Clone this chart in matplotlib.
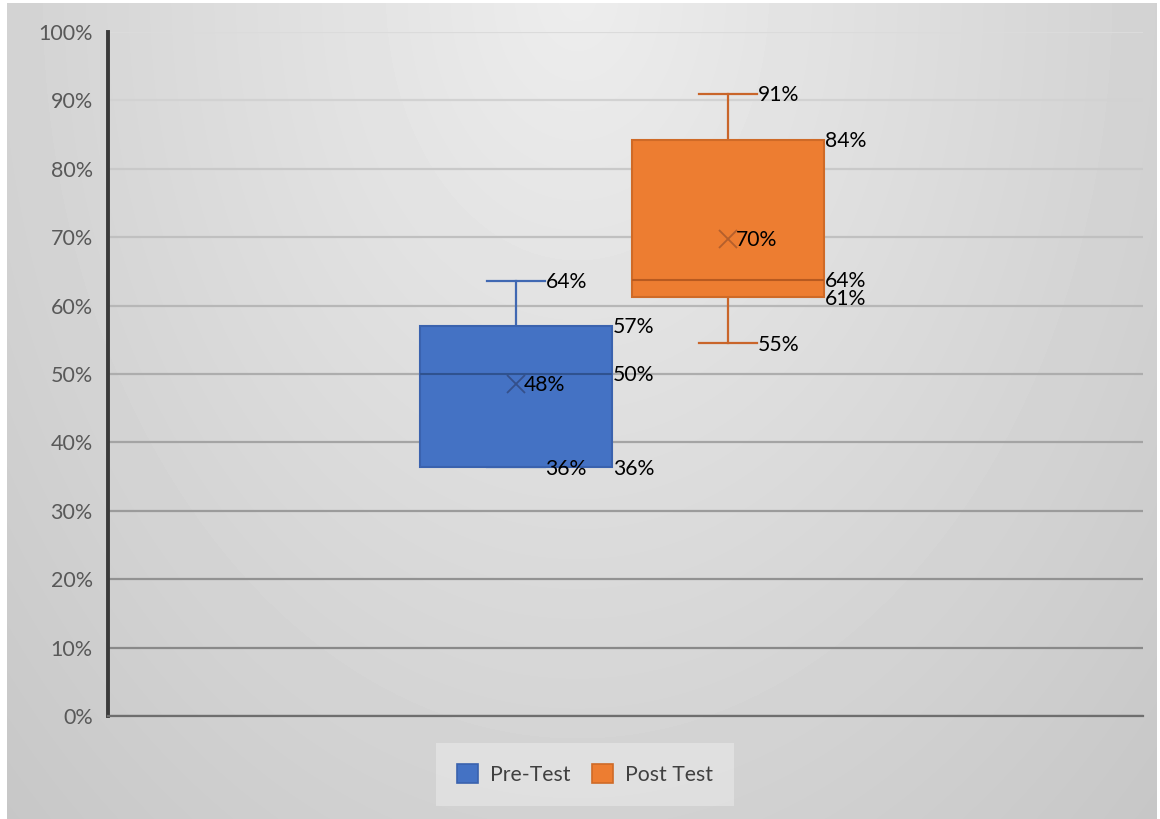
import matplotlib.pyplot as plt
import numpy as np
from matplotlib.patches import Patch

plt.rcParams['font.family'] = ['Lato', 'DejaVu Sans']

# box plot values (fractions)
series = ["Pre-Test", "Post Test"]
mins = [0.364, 0.545]
q1s = [0.364, 0.613]
medians = [0.500, 0.637]
q3s = [0.570, 0.842]
maxs = [0.636, 0.910]
means = [0.485, 0.697]

# labels shown in the chart
min_labels = ["36%", "55%"]
q1_labels = ["36%", "61%"]
med_labels = ["50%", "64%"]
q3_labels = ["57%", "84%"]
max_labels = ["64%", "91%"]
mean_labels = ["48%", "70%"]

fills = ["#4472C4", "#ED7D31"]
edges = ["#3A62AE", "#CF6A27"]
meds = ["#2F528F", "#B85A20"]
whisk = ["#4068B2", "#C9652A"]
mean_col = ["#34508A", "#B45F2C"]

fig = plt.figure(figsize=(11.6, 8.19), dpi=100)
fig.patch.set_facecolor("white")

# gradient background
bg = fig.add_axes([7 / 1160, 0, 1150 / 1160, 816 / 819], zorder=-10)
yy, xx = np.mgrid[0:816, 0:1150]
r = np.sqrt(((xx - 570) / 560.0) ** 2 + ((yy + 10) / 780.0) ** 2)
v = np.clip(237 - 26 * r, 190, 240) / 255.0
bg.imshow(v, cmap="gray", vmin=0, vmax=1, aspect="auto", interpolation="bilinear")
bg.axis("off")

ax = fig.add_axes([108 / 1160, 1 - 716 / 819, 1035 / 1160, 684 / 819])
ax.patch.set_alpha(0)

positions = [1, 2]
box_w = 0.906
cap_w = 0.269
stats = []
for i in range(len(series)):
    stats.append(dict(label=series[i], whislo=mins[i], q1=q1s[i], med=medians[i],
                      q3=q3s[i], whishi=maxs[i], mean=means[i], fliers=[]))

bp = ax.bxp(stats, positions=positions, widths=box_w, capwidths=[cap_w, cap_w],
            patch_artist=True, showmeans=True, manage_ticks=False)
for i in range(len(series)):
    bp["boxes"][i].set(facecolor=fills[i], edgecolor=edges[i], linewidth=1.5, zorder=3)
    bp["medians"][i].set(color=meds[i], linewidth=1.5, zorder=4)
    bp["means"][i].set(marker="x", markersize=13, markeredgewidth=1.3,
                       markeredgecolor=mean_col[i], zorder=5)
    for ln in bp["whiskers"][2 * i:2 * i + 2] + bp["caps"][2 * i:2 * i + 2]:
        ln.set(color=whisk[i], linewidth=1.6, zorder=2)

# data labels
lab_kw = dict(textcoords="offset pixels", va="center", ha="left", fontsize=15.2,
              color="black", zorder=6)
for i, p in enumerate(positions):
    cap_x = p + cap_w / 2
    box_x = p + box_w / 2
    ax.annotate(max_labels[i], (cap_x, maxs[i]), xytext=(1, -1), **lab_kw)
    ax.annotate(min_labels[i], (cap_x, mins[i]), xytext=(1, -2), **lab_kw)
    ax.annotate(q3_labels[i], (box_x, q3s[i]), xytext=(1, -1), **lab_kw)
    ax.annotate(med_labels[i], (box_x, medians[i]), xytext=(1, -1), **lab_kw)
    ax.annotate(q1_labels[i], (box_x, q1s[i]), xytext=(1, -2), **lab_kw)
    ax.annotate(mean_labels[i], (p, means[i]), xytext=(8, -1), **lab_kw)

ax.set_xlim(1 - 408 / 212, 2 + 415 / 212)
ax.set_ylim(0, 1)
ax.set_yticks(np.arange(0, 1.01, 0.1))
ax.set_yticklabels([f"{int(round(t * 100))}%" for t in np.arange(0, 1.01, 0.1)])
ax.set_xticks([])
ax.tick_params(axis="y", length=0, pad=11, labelsize=15.5, labelcolor="#595959")

ax.yaxis.grid(True, linewidth=1.6)
ax.set_axisbelow(True)
for t, gl in zip(ax.get_yticks(), ax.get_ygridlines()):
    g = 0.50 + 0.36 * t
    gl.set_color((g, g, g))

for s in ["top", "right"]:
    ax.spines[s].set_visible(False)
ax.spines["left"].set(color="#3A3A3A", linewidth=2.8)
ax.spines["bottom"].set(color="#6E6E6E", linewidth=1.6)

handles = [Patch(facecolor=fills[i], edgecolor=edges[i], linewidth=1.2) for i in range(2)]
leg = fig.legend(handles, series, loc="center", bbox_to_anchor=(585 / 1160, 1 - 774.5 / 819),
                 ncol=2, fontsize=15.3, frameon=True, fancybox=False, handlelength=1.0,
                 handleheight=1.0, handletextpad=0.55, columnspacing=1.0, borderpad=1.0)
leg.get_frame().set(facecolor="white", alpha=0.3, edgecolor="none")
for txt in leg.get_texts():
    txt.set_color("#404040")

fig.savefig("out.png", dpi=100)
